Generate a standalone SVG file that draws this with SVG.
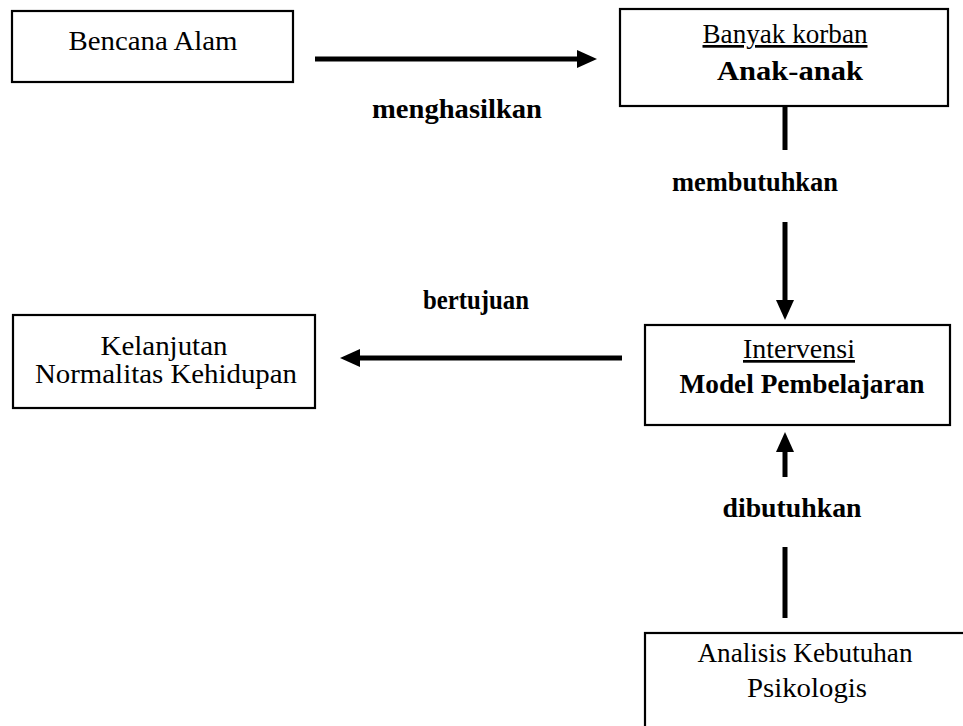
<svg xmlns="http://www.w3.org/2000/svg" width="963" height="726" viewBox="0 0 963 726">
<style>
.box{fill:#fff;stroke:#000;stroke-width:2.2}
.t{font-family:"Liberation Serif","Times New Roman",serif;font-size:27px;fill:#000;text-anchor:middle}
.b{font-weight:bold}
.u{text-decoration:underline}
.c{stroke:#000;stroke-width:5;fill:none}
</style>
<defs>
<marker id="ah" viewBox="0 0 20 18" refX="10" refY="9" markerWidth="20" markerHeight="18" markerUnits="userSpaceOnUse" orient="auto">
<path d="M0,0 L20,9 L0,18 z" fill="#000"/>
</marker>
</defs>
<rect width="963" height="726" fill="#fff"/>
<g id="connectors">
<line class="c" x1="315" y1="59" x2="587" y2="59" marker-end="url(#ah)"/>
<text class="t b" x="457" y="118" textLength="170" lengthAdjust="spacingAndGlyphs">menghasilkan</text>
<line class="c" x1="785" y1="106" x2="785" y2="150"/>
<text class="t b" x="755" y="191" textLength="166" lengthAdjust="spacingAndGlyphs">membutuhkan</text>
<line class="c" x1="785" y1="222" x2="785" y2="310" marker-end="url(#ah)"/>
<line class="c" x1="622" y1="358" x2="350" y2="358" marker-end="url(#ah)"/>
<text class="t b" x="476" y="309" textLength="106" lengthAdjust="spacingAndGlyphs">bertujuan</text>
<line class="c" x1="785" y1="618" x2="785" y2="547"/>
<text class="t b" x="792" y="517" textLength="139" lengthAdjust="spacingAndGlyphs">dibutuhkan</text>
<line class="c" x1="785" y1="477" x2="785" y2="442" marker-end="url(#ah)"/>
</g>
<g id="bencana">
<rect class="box" x="12" y="11" width="281" height="71"/>
<text class="t" x="153" y="50" textLength="169" lengthAdjust="spacingAndGlyphs">Bencana Alam</text>
</g>
<g id="korban">
<rect class="box" x="620" y="9" width="328" height="97"/>
<text class="t u" x="785" y="43" textLength="165" lengthAdjust="spacingAndGlyphs">Banyak korban</text>
<text class="t b" x="790" y="80" textLength="146" lengthAdjust="spacingAndGlyphs">Anak-anak</text>
</g>
<g id="kelanjutan">
<rect class="box" x="13" y="315" width="302" height="93"/>
<text class="t" x="164" y="355" textLength="127" lengthAdjust="spacingAndGlyphs">Kelanjutan</text>
<text class="t" x="166" y="383" textLength="262" lengthAdjust="spacingAndGlyphs">Normalitas Kehidupan</text>
</g>
<g id="intervensi">
<rect class="box" x="645" y="325" width="305" height="100"/>
<text class="t u" x="799" y="358" textLength="112" lengthAdjust="spacingAndGlyphs">Intervensi</text>
<text class="t b" x="802" y="393" textLength="245" lengthAdjust="spacingAndGlyphs">Model Pembelajaran</text>
</g>
<g id="analisis">
<rect class="box" x="645" y="633" width="330" height="110"/>
<text class="t" x="805" y="662" textLength="215" lengthAdjust="spacingAndGlyphs">Analisis Kebutuhan</text>
<text class="t" x="807" y="697" textLength="120" lengthAdjust="spacingAndGlyphs">Psikologis</text>
</g>
</svg>
